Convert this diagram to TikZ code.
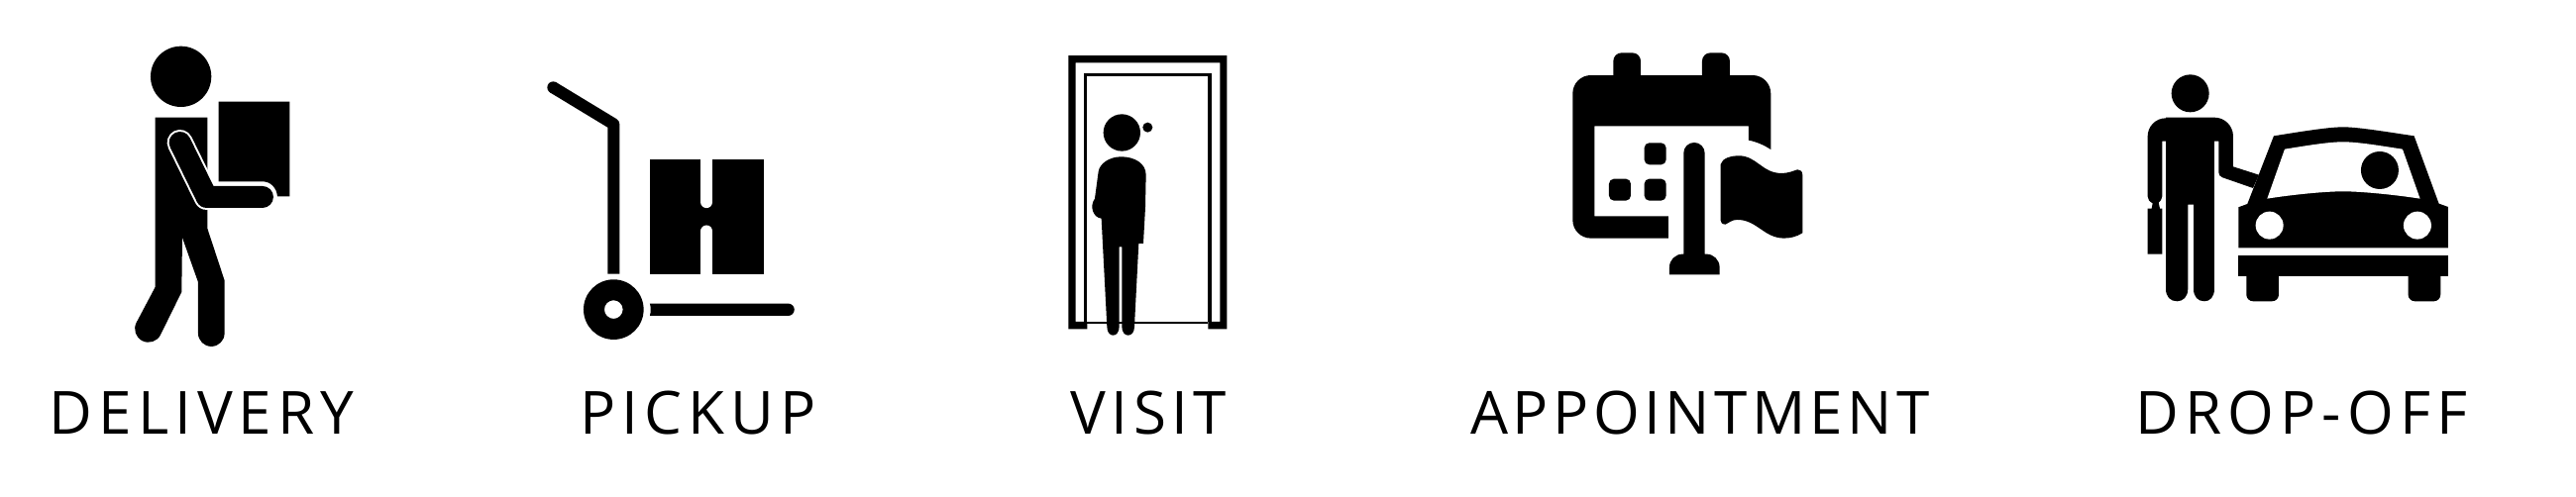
\documentclass[tikz,border=0pt]{standalone}
\usepackage{fontspec}
\setmainfont{Open Sans}
\tikzset{
  ink/.style={fill=black,draw=none},
  paper/.style={fill=white,draw=none},
  label/.style={anchor=base,inner sep=0pt,outer sep=0pt,text=black,font=\fontsize{17.1pt}{20pt}\selectfont},
  zoomed/.style={x=0.03333mm,y=-0.03333mm}
}
\begin{document}
\begin{tikzpicture}[x=0.1mm,y=-0.1mm]
\useasboundingbox (0,0) rectangle (2600,501);
\fill[white] (0,0) rectangle (2600,501);

% ---------- DELIVERY
\begin{scope}[shift={(100,20)},zoomed]
\fill[ink] (248,172) circle (92);
\fill[ink] (362,248) -- (577,248) -- (577,535) -- (540,535) .. controls (538,510) and (520,490) .. (495,490) -- (362,490) -- cycle;
\fill[ink] (170,296) -- (328,296) -- (328,632) -- (380,790) -- (380,950)
  arc[start angle=0,end angle=180,radius=40] -- (300,795) -- (252,660) -- (250,825) -- (186,955)
  arc[start angle=27,end angle=207,radius=41] -- (170,810) -- cycle;
\draw[white,line width=2.6mm,line join=round,line cap=round] (245,372) -- (326,537) -- (495,537);
\draw[black,line width=2.2mm,line join=round,line cap=round] (245,372) -- (326,537) -- (495,537);
\end{scope}

% ---------- PICKUP
\begin{scope}[shift={(530,60)},zoomed]
\fill[ink] (85,85) circle (18);
\draw[black,line width=1.2mm,line join=round] (85,85) -- (268,196) -- (268,650);
\fill[ink,even odd rule] (268,758) circle (91) (268,758) circle (28);
\fill[ink] (378,303) rectangle (724,650);
\draw[white,line width=1.23mm,line cap=round] (550,290) -- (550,432);
\draw[white,line width=1.23mm,line cap=round] (550,521) -- (550,665);
\fill[white] (370,650) rectangle (730,660);
\fill[ink] (378,740) -- (797,740) arc[start angle=-90,end angle=90,radius=18.5] -- (378,777) .. controls (381,765) and (381,752) .. (378,740) -- cycle;
\end{scope}

% ---------- VISIT
\begin{scope}[shift={(1060,40)},zoomed]
\fill[ink] (55,877) -- (55,48) -- (535,48) -- (535,877) -- (478,877) -- (478,855) -- (514,855) -- (514,70) -- (77,70) -- (77,855) -- (112,855) -- (112,877) -- cycle;
\draw[black,line width=0.33mm] (107,855) -- (107,106) -- (483,106) -- (483,855);
\draw[black,line width=0.2mm] (112,858) -- (478,858);
\fill[ink] (217,282) circle (56);
\fill[ink] (295,266) circle (15);
\fill[ink] (215,355) .. controls (255,355) and (290,375) .. (290,410) -- (288,510) -- (282,618) -- (268,618)
  -- (255,870) .. controls (255,905) and (217,905) .. (217,870) -- (217,628) -- (209,628) -- (209,870)
  .. controls (209,905) and (172,905) .. (172,870) -- (155,542) .. controls (130,540) and (118,505) .. (135,482)
  -- (146,400) .. controls (150,375) and (180,355) .. (215,355) -- cycle;
\end{scope}

% ---------- APPOINTMENT
\begin{scope}[shift={(1570,40)},zoomed]
\fill[ink] (52,163) arc[start angle=180,end angle=270,radius=55] -- (175,108) -- (175,65)
  arc[start angle=180,end angle=270,radius=25] -- (233,40) arc[start angle=270,end angle=360,radius=25]
  -- (258,108) -- (444,108) -- (444,65) arc[start angle=180,end angle=270,radius=25] -- (503,40)
  arc[start angle=270,end angle=360,radius=25] -- (528,108) -- (597,108) arc[start angle=270,end angle=360,radius=55]
  -- (652,333) .. controls (632,320) and (610,310) .. (585,305) -- (585,262) -- (118,262) -- (118,535)
  -- (342,535) -- (342,602) -- (107,602) arc[start angle=90,end angle=180,radius=55] -- cycle;
\fill[ink,rounded corners=0.5mm] (269,313) rectangle (335,379);
\fill[ink,rounded corners=0.5mm] (162,422) rectangle (228,488);
\fill[ink,rounded corners=0.5mm] (269,422) rectangle (335,488);
\fill[ink] (388,650) -- (388,344) arc[start angle=180,end angle=360,radius=32] -- (452,650) -- (457,650)
  arc[start angle=270,end angle=360,radius=40] -- (497,712) -- (345,712) -- (345,690) arc[start angle=180,end angle=270,radius=40] -- cycle;
\fill[ink] (500,378) .. controls (505,358) and (535,352) .. (555,352)
  .. controls (610,352) and (625,405) .. (685,405) .. controls (705,405) and (720,398) .. (733,394)
  .. controls (742,393) and (748,400) .. (748,410) -- (748,586)
  .. controls (730,598) and (710,602) .. (690,602) .. controls (630,600) and (610,546) .. (550,546)
  .. controls (535,546) and (525,555) .. (515,560) .. controls (505,560) and (500,555) .. (500,548) -- cycle;
\end{scope}

% ---------- DROP-OFF
\begin{scope}[shift={(2160,60)},zoomed]
\fill[ink] (152,103) circle (57);
\fill[ink] (78,176) -- (225,176) arc[start angle=270,end angle=360,radius=57] -- (282,325) -- (360,350) -- (342,390) -- (250,358)
  .. controls (242,355) and (238,350) .. (238,342) -- (238,248) -- (225,248) -- (225,695)
  .. controls (225,720) and (212,733) .. (195,733) .. controls (175,733) and (162,720) .. (162,695)
  -- (162,440) -- (145,440) -- (145,695) .. controls (145,720) and (130,733) .. (112,733)
  .. controls (92,733) and (78,720) .. (78,695) -- (78,248) -- (67,248) -- (67,415)
  .. controls (67,425) and (60,430) .. (56,434) -- (60,452) -- (67,452) -- (67,590) -- (23,590) -- (23,452) -- (35,452) -- (38,436)
  .. controls (28,430) and (23,425) .. (23,415) -- (23,233) arc[start angle=180,end angle=270,radius=55] -- cycle;
\fill[ink] (298,448) -- (325,438) -- (405,232) .. controls (480,220) and (570,205) .. (615,205)
  .. controls (660,205) and (750,220) .. (830,232) -- (905,437) -- (933,447) -- (933,571) -- (298,571) -- cycle;
\fill[paper] (385,422) -- (438,272) .. controls (500,262) and (570,250) .. (615,250)
  .. controls (660,250) and (730,262) .. (795,272) -- (848,422)
  .. controls (770,410) and (670,400) .. (615,400) .. controls (560,400) and (460,410) .. (385,422) -- cycle;
\fill[ink] (726,336) circle (57);
\fill[paper] (392,503) circle (42);
\fill[paper] (840,503) circle (42);
\fill[ink] (298,594) rectangle (933,656);
\fill[ink] (322,650) -- (420,650) -- (420,713) arc[start angle=0,end angle=90,radius=20] -- (342,733) arc[start angle=90,end angle=180,radius=20] -- cycle;
\fill[ink] (812,650) -- (910,650) -- (910,713) arc[start angle=0,end angle=90,radius=20] -- (832,733) arc[start angle=90,end angle=180,radius=20] -- cycle;
\end{scope}

% ---------- labels
\node[label] (delivery) at (203.5,438.5) {\addfontfeature{LetterSpace=10}DELIVERY};
\node[label] (pickup) at (704.3,438.5) {\addfontfeature{LetterSpace=10.2}PICKUP};
\node[label] (visit) at (1159.3,438.5) {\addfontfeature{LetterSpace=9}VISIT};
\node[label] (appointment) at (1716,438.5) {\addfontfeature{LetterSpace=7.5}APPOINTMENT};
\node[label] (dropoff) at (2323,438.5) {\addfontfeature{LetterSpace=10}DROP-OFF};
\end{tikzpicture}
\end{document}
